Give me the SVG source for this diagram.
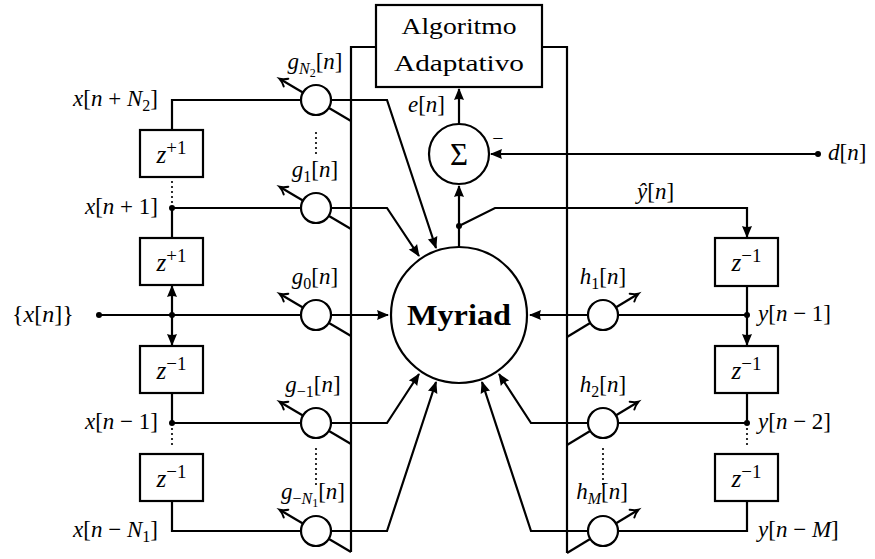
<svg xmlns="http://www.w3.org/2000/svg" width="875" height="559" viewBox="0 0 875 559">
<defs>
<style>
.ln{fill:none;stroke:#000;stroke-width:2.2;stroke-linejoin:miter}
.nd{fill:#fff;stroke:#000;stroke-width:2.2}
.dt{fill:none;stroke:#000;stroke-width:2.2;stroke-dasharray:0 5;stroke-linecap:round}
.dot{fill:#000}
.m{font-family:"Liberation Serif","Times New Roman",serif;font-size:23px;fill:#000}
.i{font-style:italic}
.s{font-size:16px}
.z{font-size:25px;font-style:italic}
.sp{font-size:19px}
.ss{font-size:12px}
.big{font-size:24px}
.sig{font-size:31px}
.my{font-size:30px;font-weight:bold}
.mn{font-size:20px}
</style>
<marker id="arr" markerUnits="userSpaceOnUse" orient="auto" markerWidth="14" markerHeight="12" refX="0" refY="0" viewBox="-12 -6 14 12" overflow="visible">
<path d="M1,0 L-11,-5 Q-9,0 -11,5 Z" fill="#000"/>
</marker>
<marker id="sa" markerUnits="userSpaceOnUse" orient="auto" markerWidth="10" markerHeight="12" refX="0" refY="0" viewBox="-9 -6 10 12" overflow="visible">
<path d="M-7,-4.5 Q-3,-1 0.5,0 Q-3,1 -7,4.5" fill="none" stroke="#000" stroke-width="2" stroke-linecap="round"/>
</marker>
</defs>
<rect width="875" height="559" fill="#fff"/>

<g id="connectors">
<path class="ln" d="M172,130 V100 H387 L436,248" marker-end="url(#arr)"/>
<path class="ln" d="M172,238 V208 H387 L419,256" marker-end="url(#arr)"/>
<path class="dt" d="M172,182 V203"/>
<path class="ln" d="M99,315 H388" marker-end="url(#arr)"/>
<path class="ln" d="M172,315 V286" marker-end="url(#arr)"/>
<path class="ln" d="M172,315 V345" marker-end="url(#arr)"/>
<path class="ln" d="M172,393 V423 H387 L419,374" marker-end="url(#arr)"/>
<path class="dt" d="M172,429 V448"/>
<path class="ln" d="M172,501 V531 H387 L436,382" marker-end="url(#arr)"/>
<path class="ln" d="M376,47 H351 V552"/>
<path class="ln" d="M351,121 L280,79" marker-end="url(#sa)"/>
<path class="ln" d="M351,229 L280,187" marker-end="url(#sa)"/>
<path class="ln" d="M351,336 L280,294" marker-end="url(#sa)"/>
<path class="ln" d="M351,444 L280,402" marker-end="url(#sa)"/>
<path class="ln" d="M351,552 L280,510" marker-end="url(#sa)"/>
<path class="dt" d="M316,133 V157"/>
<path class="dt" d="M316,449 V485"/>
<path class="ln" d="M459,247 V186" marker-end="url(#arr)"/>
<path class="ln" d="M459,124 V89" marker-end="url(#arr)"/>
<path class="ln" d="M818,154 H491" marker-end="url(#arr)"/>
<path class="ln" d="M459,226 L495,208 H747 V237" marker-end="url(#arr)"/>
<path class="ln" d="M747,286 V345" marker-end="url(#arr)"/>
<path class="ln" d="M747,315 H530" marker-end="url(#arr)"/>
<path class="ln" d="M747,393 V423 H531 L499,374" marker-end="url(#arr)"/>
<path class="dt" d="M747,429 V448"/>
<path class="ln" d="M747,501 V531 H531 L482,382" marker-end="url(#arr)"/>
<path class="ln" d="M542,47 H567 V553"/>
<path class="ln" d="M567,337 L638,294" marker-end="url(#sa)"/>
<path class="ln" d="M567,445 L638,402" marker-end="url(#sa)"/>
<path class="ln" d="M567,553 L638,510" marker-end="url(#sa)"/>
<path class="dt" d="M603,449 V485"/>
<circle class="dot" cx="99" cy="315" r="3"/>
<circle class="dot" cx="172" cy="315" r="3"/>
<circle class="dot" cx="172" cy="208" r="3"/>
<circle class="dot" cx="172" cy="423" r="3"/>
<circle class="dot" cx="459" cy="226" r="3"/>
<circle class="dot" cx="818" cy="154" r="3"/>
<circle class="dot" cx="747" cy="315" r="3"/>
<circle class="dot" cx="747" cy="423" r="3"/>
</g>

<g id="algoritmo">
<rect class="nd" x="376" y="5" width="166" height="82"/>
<text class="m big" x="459" y="34" text-anchor="middle" textLength="115" lengthAdjust="spacingAndGlyphs">Algoritmo</text>
<text class="m big" x="459" y="71" text-anchor="middle" textLength="130" lengthAdjust="spacingAndGlyphs">Adaptativo</text>
</g>

<g id="sigma">
<circle class="nd" cx="459" cy="154" r="30"/>
<text class="m sig" x="459" y="165" text-anchor="middle">Σ</text>
</g>

<g id="myriad">
<circle class="nd" cx="459" cy="315" r="68"/>
<text class="m my" x="459" y="325" text-anchor="middle" textLength="104" lengthAdjust="spacingAndGlyphs">Myriad</text>
</g>

<g id="zp1a"><rect class="nd" x="140" y="130" width="63" height="47"/>
<text class="m" x="171.5" y="163" text-anchor="middle"><tspan class="z">z</tspan><tspan class="sp" dy="-9">+1</tspan></text></g>
<g id="zp1b"><rect class="nd" x="140" y="238" width="63" height="47"/>
<text class="m" x="171.5" y="271" text-anchor="middle"><tspan class="z">z</tspan><tspan class="sp" dy="-9">+1</tspan></text></g>
<g id="zm1a"><rect class="nd" x="140" y="346" width="63" height="47"/>
<text class="m" x="171.5" y="379" text-anchor="middle"><tspan class="z">z</tspan><tspan class="sp" dy="-9">−1</tspan></text></g>
<g id="zm1b"><rect class="nd" x="140" y="454" width="63" height="47"/>
<text class="m" x="171.5" y="487" text-anchor="middle"><tspan class="z">z</tspan><tspan class="sp" dy="-9">−1</tspan></text></g>

<g id="zr1"><rect class="nd" x="715" y="238" width="63" height="48"/>
<text class="m" x="746.5" y="271" text-anchor="middle"><tspan class="z">z</tspan><tspan class="sp" dy="-9">−1</tspan></text></g>
<g id="zr2"><rect class="nd" x="715" y="346" width="63" height="47"/>
<text class="m" x="746.5" y="379" text-anchor="middle"><tspan class="z">z</tspan><tspan class="sp" dy="-9">−1</tspan></text></g>
<g id="zr3"><rect class="nd" x="715" y="454" width="63" height="47"/>
<text class="m" x="746.5" y="487" text-anchor="middle"><tspan class="z">z</tspan><tspan class="sp" dy="-9">−1</tspan></text></g>

<g id="gN2"><circle class="nd" cx="316" cy="100" r="15"/>
<text class="m" x="315" y="69" text-anchor="middle"><tspan class="i">g</tspan><tspan class="s i" dy="5">N</tspan><tspan class="ss" dy="3">2</tspan><tspan dy="-8">[</tspan><tspan class="i">n</tspan>]</text></g>
<g id="g1"><circle class="nd" cx="316" cy="208" r="15"/>
<text class="m" x="315" y="177" text-anchor="middle"><tspan class="i">g</tspan><tspan class="s" dy="5">1</tspan><tspan dy="-5">[</tspan><tspan class="i">n</tspan>]</text></g>
<g id="g0"><circle class="nd" cx="316" cy="315" r="15"/>
<text class="m" x="315" y="284" text-anchor="middle"><tspan class="i">g</tspan><tspan class="s" dy="5">0</tspan><tspan dy="-5">[</tspan><tspan class="i">n</tspan>]</text></g>
<g id="gm1"><circle class="nd" cx="316" cy="423" r="15"/>
<text class="m" x="313" y="392" text-anchor="middle"><tspan class="i">g</tspan><tspan class="s" dy="5">−1</tspan><tspan dy="-5">[</tspan><tspan class="i">n</tspan>]</text></g>
<g id="gmN1"><circle class="nd" cx="316" cy="531" r="15"/>
<text class="m" x="313" y="499" text-anchor="middle"><tspan class="i">g</tspan><tspan class="s" dy="5">−</tspan><tspan class="s i">N</tspan><tspan class="ss" dy="3">1</tspan><tspan dy="-8">[</tspan><tspan class="i">n</tspan>]</text></g>

<g id="h1"><circle class="nd" cx="603" cy="315" r="15"/>
<text class="m" x="603" y="284" text-anchor="middle"><tspan class="i">h</tspan><tspan class="s" dy="5">1</tspan><tspan dy="-5">[</tspan><tspan class="i">n</tspan>]</text></g>
<g id="h2"><circle class="nd" cx="603" cy="423" r="15"/>
<text class="m" x="603" y="392" text-anchor="middle"><tspan class="i">h</tspan><tspan class="s" dy="5">2</tspan><tspan dy="-5">[</tspan><tspan class="i">n</tspan>]</text></g>
<g id="hM"><circle class="nd" cx="603" cy="531" r="15"/>
<text class="m" x="602" y="499" text-anchor="middle"><tspan class="i">h</tspan><tspan class="s i" dy="5">M</tspan><tspan dy="-5">[</tspan><tspan class="i">n</tspan>]</text></g>

<g id="labels">
<text class="m" x="158" y="106" text-anchor="end"><tspan class="i">x</tspan>[<tspan class="i">n</tspan> + <tspan class="i">N</tspan><tspan class="s" dy="5">2</tspan><tspan dy="-5">]</tspan></text>
<text class="m" x="158" y="214" text-anchor="end"><tspan class="i">x</tspan>[<tspan class="i">n</tspan> + 1]</text>
<text class="m big" x="12" y="322"><tspan>{</tspan><tspan class="i">x</tspan>[<tspan class="i">n</tspan>]}</text>
<text class="m" x="158" y="429" text-anchor="end"><tspan class="i">x</tspan>[<tspan class="i">n</tspan> − 1]</text>
<text class="m" x="158" y="537" text-anchor="end"><tspan class="i">x</tspan>[<tspan class="i">n</tspan> − <tspan class="i">N</tspan><tspan class="s" dy="5">1</tspan><tspan dy="-5">]</tspan></text>
<text class="m" x="445" y="112" text-anchor="end"><tspan class="i">e</tspan>[<tspan class="i">n</tspan>]</text>
<text class="m mn" x="498" y="145" text-anchor="middle">−</text>
<text class="m" x="828" y="160"><tspan class="i">d</tspan>[<tspan class="i">n</tspan>]</text>
<text class="m" x="637" y="199"><tspan class="i">ŷ</tspan>[<tspan class="i">n</tspan>]</text>
<text class="m" x="758" y="321"><tspan class="i">y</tspan>[<tspan class="i">n</tspan> − 1]</text>
<text class="m" x="758" y="429"><tspan class="i">y</tspan>[<tspan class="i">n</tspan> − 2]</text>
<text class="m" x="758" y="537"><tspan class="i">y</tspan>[<tspan class="i">n</tspan> − <tspan class="i">M</tspan>]</text>
</g>
</svg>
